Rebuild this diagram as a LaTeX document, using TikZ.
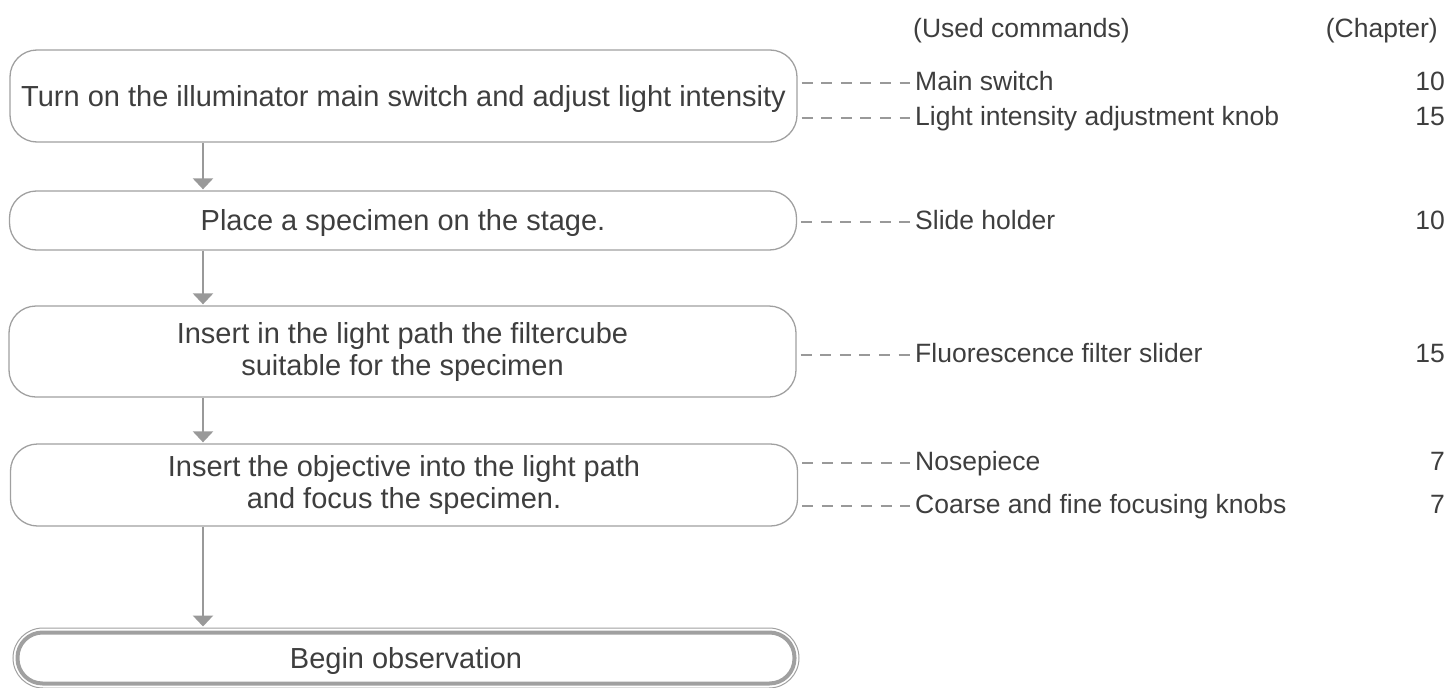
\documentclass[tikz,border=0pt]{standalone}
\usepackage{fontspec}
\setmainfont{Liberation Sans}
\usepackage{xcolor}
\usepackage{tikz}
\usetikzlibrary{arrows.meta,positioning}
\definecolor{inkgray}{HTML}{3E3E3E}
\definecolor{framegray}{HTML}{A0A0A0}
\definecolor{arrowgray}{HTML}{999999}
\newcommand\boxfont{\fontsize{29}{32}\selectfont}
\newcommand\sidefont{\fontsize{26.5}{33}\selectfont}

\begin{document}
\begin{tikzpicture}[x=1pt, y=-1pt,
  stepbox/.style={draw=framegray, line width=1.3pt, rounded corners=27pt,
    minimum width=787pt, inner sep=0pt, align=center, text=inkgray, font=\boxfont},
  oneline/.style={text height=21pt, text depth=1pt},
  endbox/.style={draw=framegray, line width=1pt, rounded corners=30pt,
    minimum width=786pt, minimum height=60pt, inner sep=0pt, text=inkgray, font=\boxfont},
  flow/.style={draw=arrowgray, line width=2.5pt, -{Triangle[width=20pt,length=11pt]}, shorten >=1pt},
  link/.style={draw=arrowgray, line width=2pt, dash pattern=on 11pt off 8.6pt,
    shorten <=4pt, shorten >=5pt},
  cmd/.style={anchor=west, inner sep=0pt, text height=19pt, text depth=5pt,
    text=inkgray, font=\sidefont},
  chap/.style={cmd, anchor=east}]
  \useasboundingbox (0,0) rectangle (1449,688);

  \node[stepbox, oneline, minimum height=92pt] (s1) at (403.5,96)
    {Turn on the illuminator main switch and adjust light intensity};
  \node[stepbox, oneline, minimum height=59pt] (s2) at (403,220.5)
    {Place a specimen on the stage.};
  \node[stepbox, minimum height=91pt] (s3) at (402.5,351.5)
    {Insert in the light path the filtercube\\ suitable for the specimen};
  \node[stepbox, minimum height=82pt] (s4) at (404,485)
    {Insert the objective into the light path\\ and focus the specimen.};
  \node[endbox, oneline] (s5) at (406,658) {Begin observation};
  \draw[framegray, line width=4pt, rounded corners=25pt]
    ([shift={(5,5)}]s5.north west) rectangle ([shift={(-5,-5)}]s5.south east);

  \coordinate (ax) at (203,0);
  \draw[flow] (s1.south -| ax) -- (s2.north -| ax);
  \draw[flow] (s2.south -| ax) -- (s3.north -| ax);
  \draw[flow] (s3.south -| ax) -- (s4.north -| ax);
  \draw[flow] (s4.south -| ax) -- (s5.north -| ax);

  \node[cmd] (hcmd) at (913,30) {(Used commands)};
  \node[chap] (hchap) at (1438,30) {(Chapter)};

  \node[cmd] (c1) at (915,83) {Main switch};
  \node[cmd] (c2) at (915,118) {Light intensity adjustment knob};
  \node[cmd] (c3) at (915,222) {Slide holder};
  \node[cmd] (c4) at (915,355) {Fluorescence filter slider};
  \node[cmd] (c5) at (915,463) {Nosepiece};
  \node[cmd] (c6) at (915,506) {Coarse and fine focusing knobs};

  \node[chap] (n1) at (1445,83) {10};
  \node[chap] (n2) at (1445,118) {15};
  \node[chap] (n3) at (1445,222) {10};
  \node[chap] (n4) at (1445,355) {15};
  \node[chap] (n5) at (1445,463) {7};
  \node[chap] (n6) at (1445,506) {7};

  \draw[link] (s1.east |- c1.west) -- (c1.west);
  \draw[link] (s1.east |- c2.west) -- (c2.west);
  \draw[link] (s2.east |- c3.west) -- (c3.west);
  \draw[link] (s3.east |- c4.west) -- (c4.west);
  \draw[link] (s4.east |- c5.west) -- (c5.west);
  \draw[link] (s4.east |- c6.west) -- (c6.west);
\end{tikzpicture}
\end{document}
